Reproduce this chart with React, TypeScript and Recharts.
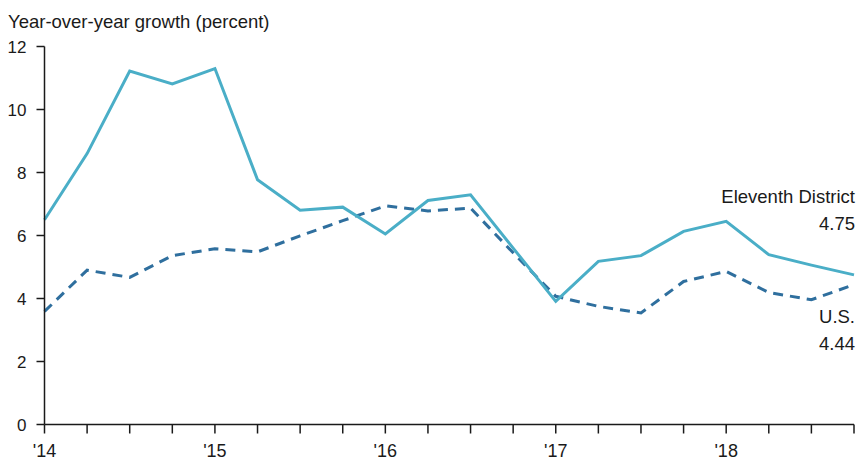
import React from 'react';
import { LineChart, Line, XAxis, YAxis, LabelList, Customized } from 'recharts';

const quarters = [
  '2014Q1', '2014Q2', '2014Q3', '2014Q4',
  '2015Q1', '2015Q2', '2015Q3', '2015Q4',
  '2016Q1', '2016Q2', '2016Q3', '2016Q4',
  '2017Q1', '2017Q2', '2017Q3', '2017Q4',
  '2018Q1', '2018Q2', '2018Q3', '2018Q4',
];
const eleventhDistrict = [6.5, 8.6, 11.22, 10.81, 11.3, 7.77, 6.8, 6.9, 6.05, 7.11, 7.29, 5.6, 3.91, 5.18, 5.36, 6.13, 6.45, 5.39, 5.06, 4.75];
const unitedStates = [3.59, 4.9, 4.67, 5.36, 5.58, 5.48, 5.99, 6.47, 6.94, 6.78, 6.87, 5.45, 4.07, 3.75, 3.54, 4.54, 4.86, 4.19, 3.96, 4.44];
const yearTickLabels: Record<string, string> = {
  '2014Q1': "'14", '2015Q1': "'15", '2016Q1': "'16", '2017Q1': "'17", '2018Q1': "'18",
};
const yTicks = [0, 2, 4, 6, 8, 10, 12];
const title = 'Year-over-year growth (percent)';
const seriesNames = { district: 'Eleventh District', us: 'U.S.' };

const data = quarters.map((q, i) => ({ q, district: eleventhDistrict[i], us: unitedStates[i] }));

const FONT = '"Liberation Sans", Arial, Helvetica, sans-serif';
const TEXT = '#1a1a1a';

const makeEndLabel = (name: string, above: boolean) => (props: any) => {
  const { y, index, value } = props;
  if (index !== data.length - 1) return null;
  const first = above ? y - 72 : y + 38;
  const second = above ? y - 45 : y + 65;
  return (
    <g>
      <text x={855} y={first} textAnchor="end" fontSize={18.5} fontFamily={FONT} fill={TEXT}>{name}</text>
      <text x={855} y={second} textAnchor="end" fontSize={18.5} fontFamily={FONT} fill={TEXT}>{Number(value).toFixed(2)}</text>
    </g>
  );
};

export default function App() {
  return (
    <div style={{ position: 'absolute', left: 0, top: 0, width: 856, height: 462, background: '#fff' }}>
      <LineChart width={856} height={462} data={data} margin={{ top: 46.5, right: 2, left: 0, bottom: 8 }}>
        <Customized
          component={() => (
            <text x={8} y={28} fontSize={18.5} fontFamily={FONT} fill={TEXT}>{title}</text>
          )}
        />
        <XAxis
          dataKey="q"
          interval={0}
          height={29.5}
          tickSize={9}
          tickMargin={11}
          axisLine={{ stroke: TEXT, strokeWidth: 1.5 }}
          tickLine={{ stroke: TEXT, strokeWidth: 1.5 }}
          tick={{ fontSize: 18, fontFamily: FONT, fill: TEXT }}
          tickFormatter={(v: string) => yearTickLabels[v] ?? ''}
        />
        <YAxis
          domain={[0, 12]}
          ticks={yTicks}
          width={44.5}
          tickSize={8}
          tickMargin={10}
          interval={0}
          axisLine={{ stroke: TEXT, strokeWidth: 1.5 }}
          tickLine={{ stroke: TEXT, strokeWidth: 1.5 }}
          tick={{ fontSize: 17, fontFamily: FONT, fill: TEXT }}
        />
        <Line
          dataKey="us"
          stroke="#2f6f9e"
          strokeWidth={3}
          strokeDasharray="10 7"
          dot={false}
          activeDot={false}
          isAnimationActive={false}
          type="linear"
        >
          <LabelList dataKey="us" content={makeEndLabel(seriesNames.us, false)} />
        </Line>
        <Line
          dataKey="district"
          stroke="#4aaec7"
          strokeWidth={3}
          dot={false}
          activeDot={false}
          isAnimationActive={false}
          type="linear"
        >
          <LabelList dataKey="district" content={makeEndLabel(seriesNames.district, true)} />
        </Line>
      </LineChart>
    </div>
  );
}
